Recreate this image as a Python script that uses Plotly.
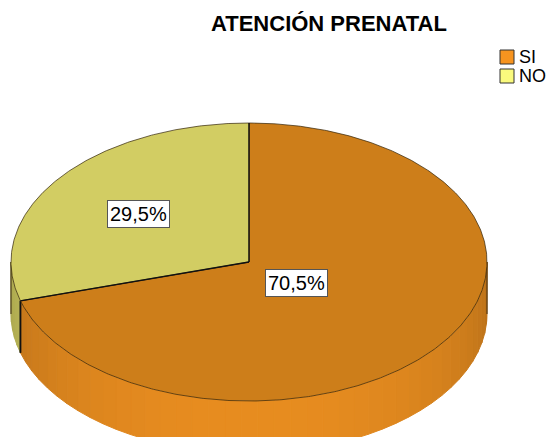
import numpy as np
import plotly.graph_objects as go

# ---- data ----
categories = ["SI", "NO"]
percentages = [70.5, 29.5]
title_text = "ATENCIÓN PRENATAL"

# ---- style ----
top_colors = ["#CD7E1A", "#D2CD63"]
side_base = [(232, 141, 32), (214, 209, 100)]
legend_colors = ["#F7941F", "#FAFA7D"]
label_frac = [0.25, 0.58]

W, H = 551, 437
cx, cy, rx, ry, depth = 249, 262, 238, 139, 52

def pt(theta_deg, dy=0.0):
    t = np.radians(theta_deg)
    return cx + rx * np.sin(t), cy - ry * np.cos(t) + dy

fig = go.Figure()

# angle ranges (clockwise from 12 o'clock)
total = sum(percentages)
bounds = []
acc = 0.0
for v in percentages:
    a0 = acc / total * 360
    acc += v
    a1 = acc / total * 360
    bounds.append((a0, a1))

# side walls (visible front half: 90..270)
for i, (a0, a1) in enumerate(bounds):
    s0, s1 = max(a0, 90), min(a1, 270)
    if s1 <= s0:
        continue
    n = max(1, int(np.ceil((s1 - s0) / 4)))
    edges = np.linspace(s0, s1, n + 1)
    for k in range(n):
        e0, e1 = edges[k], edges[k + 1]
        th = np.linspace(e0, e1, 6)
        xs_top, ys_top = pt(th)
        xs_bot, ys_bot = pt(th[::-1], depth)
        mid = 0.5 * (e0 + e1)
        f = 0.8 + 0.2 * np.cos(np.radians(mid - 180))
        r, g, b = [int(min(255, c * f)) for c in side_base[i]]
        col = f"rgb({r},{g},{b})"
        fig.add_trace(go.Scatter(
            x=np.concatenate([xs_top, xs_bot, xs_top[:1]]),
            y=np.concatenate([ys_top, ys_bot, ys_top[:1]]),
            mode="lines", fill="toself", fillcolor=col,
            line=dict(color=col, width=1),
            hoverinfo="skip", showlegend=False))

# outer side edges
for edge_theta in [90, 270]:
    x0, y0 = pt(edge_theta)
    fig.add_trace(go.Scatter(x=[x0, x0], y=[y0, y0 + depth], mode="lines",
                             line=dict(color="#3a2a10", width=1),
                             hoverinfo="skip", showlegend=False))

# slice boundary vertical edge on side wall
for (a0, a1) in bounds:
    for a in (a0, a1):
        if 90 < a < 270:
            x0, y0 = pt(a)
            fig.add_trace(go.Scatter(x=[x0, x0], y=[y0, y0 + depth], mode="lines",
                                     line=dict(color="#111111", width=1.5),
                                     hoverinfo="skip", showlegend=False))

# top faces
for i, (a0, a1) in enumerate(bounds):
    th = np.linspace(a0, a1, max(8, int((a1 - a0) * 2)))
    xs, ys = pt(th)
    fig.add_trace(go.Scatter(
        x=np.concatenate([[cx], xs, [cx]]),
        y=np.concatenate([[cy], ys, [cy]]),
        mode="lines", fill="toself", fillcolor=top_colors[i],
        line=dict(color="rgba(50,35,10,0.7)", width=1),
        hoverinfo="skip", showlegend=False))

# radial boundary lines
for (a0, a1) in bounds:
    x0, y0 = pt(a0)
    fig.add_trace(go.Scatter(x=[cx, x0], y=[cy, y0], mode="lines",
                             line=dict(color="#111111", width=1.3),
                             hoverinfo="skip", showlegend=False))

# labels
annotations = []
for i, (a0, a1) in enumerate(bounds):
    mid = 0.5 * (a0 + a1)
    t = np.radians(mid)
    lx = cx + label_frac[i] * rx * np.sin(t)
    ly = cy - label_frac[i] * ry * np.cos(t)
    annotations.append(dict(
        x=lx, y=ly, xref="x", yref="y", showarrow=False,
        text=f"{percentages[i]:.1f}%".replace(".", ","),
        font=dict(family="Arial, Liberation Sans, sans-serif", size=20, color="black"),
        bgcolor="white", bordercolor="#555555", borderwidth=1, borderpad=2))

# title
annotations.append(dict(
    x=329, y=23, xref="x", yref="y", showarrow=False, text=f"<b>{title_text}</b>",
    font=dict(family="Arial, Liberation Sans, sans-serif", size=22, color="black")))

# legend
leg_y = [57, 76]
fig.add_trace(go.Scatter(
    x=[507] * len(categories), y=leg_y, mode="markers",
    marker=dict(symbol="square", size=14, color=legend_colors,
                line=dict(color="#333333", width=1)),
    hoverinfo="skip", showlegend=False))
for i, c in enumerate(categories):
    annotations.append(dict(
        x=517, y=leg_y[i], xref="x", yref="y", xanchor="left", showarrow=False,
        text=c, font=dict(family="Arial, Liberation Sans, sans-serif", size=18, color="black")))

fig.update_layout(
    width=W, height=H,
    margin=dict(l=0, r=0, t=0, b=0),
    paper_bgcolor="white", plot_bgcolor="white",
    xaxis=dict(range=[0, W], visible=False, fixedrange=True),
    yaxis=dict(range=[H, 0], visible=False, fixedrange=True),
    annotations=annotations,
    showlegend=False,
)

fig.write_html("out.html")
